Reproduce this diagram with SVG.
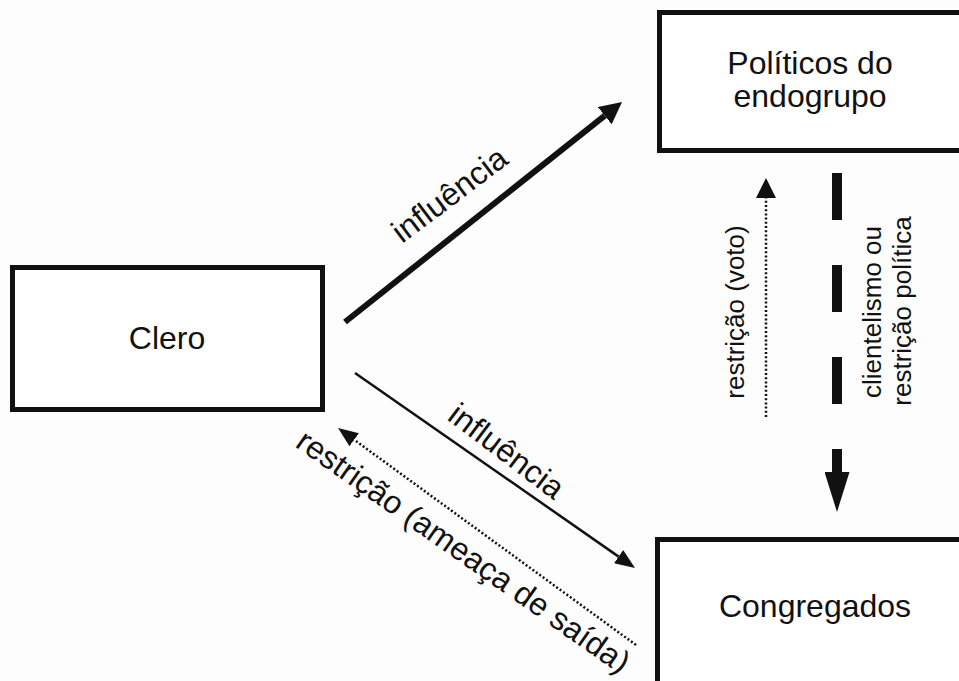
<svg xmlns="http://www.w3.org/2000/svg" width="959" height="681" viewBox="0 0 959 681">
<style>
.box{fill:#fff;stroke:#111;stroke-width:5}
.lbl{font-family:"Liberation Sans",Arial,sans-serif;fill:#111}
.node{font-size:32px;text-anchor:middle}
.edge{font-size:32px}
.vert{font-size:26px;text-anchor:middle}
.ln{fill:none;stroke:#111}
</style>
<defs>
<marker id="hThick" markerUnits="userSpaceOnUse" viewBox="0 -11 22 22" refX="0" refY="0" markerWidth="22" markerHeight="22" orient="auto"><path d="M0,-11 L22,0 L0,11 z" fill="#111"/></marker>
<marker id="hThin" markerUnits="userSpaceOnUse" viewBox="0 -8 20 16" refX="0" refY="0" markerWidth="20" markerHeight="16" orient="auto"><path d="M0,-8 L20,0 L0,8 z" fill="#111"/></marker>
<marker id="hDot" markerUnits="userSpaceOnUse" viewBox="0 -10 20 20" refX="0" refY="0" markerWidth="20" markerHeight="20" orient="auto"><path d="M0,-10 L20,0 L0,10 z" fill="#111"/></marker>
<marker id="hDash" markerUnits="userSpaceOnUse" viewBox="0 -12.5 40 25" refX="0" refY="0" markerWidth="40" markerHeight="25" orient="auto"><path d="M0,-12.5 L40,0 L0,12.5 z" fill="#111"/></marker>
</defs>
<rect width="959" height="681" fill="#fdfdfd"/>
<g id="clero">
<rect class="box" x="12.5" y="267.5" width="310" height="142"/>
<text class="lbl node" x="167" y="349">Clero</text>
</g>
<g id="politicos">
<rect class="box" x="659.5" y="12.5" width="320" height="138"/>
<text class="lbl node" x="810" y="74">Políticos do</text>
<text class="lbl node" x="810" y="107">endogrupo</text>
</g>
<g id="congregados">
<rect class="box" x="657.5" y="539.5" width="320" height="160"/>
<text class="lbl node" x="815" y="617">Congregados</text>
</g>
<g id="connectors">
<line class="ln" x1="345" y1="322" x2="604.8" y2="115.7" stroke-width="6" marker-end="url(#hThick)"/>
<line class="ln" x1="355" y1="373" x2="618.6" y2="556.6" stroke-width="2.5" marker-end="url(#hThin)"/>
<line class="ln" x1="636" y1="645" x2="354.2" y2="439.8" stroke-width="2.5" stroke-dasharray="2 2.2" marker-end="url(#hThin)"/>
<line class="ln" x1="766" y1="417" x2="766" y2="198" stroke-width="2.5" stroke-dasharray="2 2.2" marker-end="url(#hDot)"/>
<line class="ln" x1="837" y1="173" x2="837" y2="472" stroke-width="10" stroke-dasharray="47 45" marker-end="url(#hDash)"/>
<text class="lbl edge" transform="translate(402,244) rotate(-37)">influência</text>
<text class="lbl edge" transform="translate(446,419) rotate(37)">influência</text>
<text class="lbl edge" transform="translate(294,446) rotate(35)">restrição (ameaça de saída)</text>
<text class="lbl vert" transform="translate(744,312) rotate(-90)">restrição (voto)</text>
<text class="lbl vert" transform="translate(881,312) rotate(-90)">clientelismo ou</text>
<text class="lbl vert" transform="translate(911,311) rotate(-90)">restrição política</text>
</g>
</svg>
